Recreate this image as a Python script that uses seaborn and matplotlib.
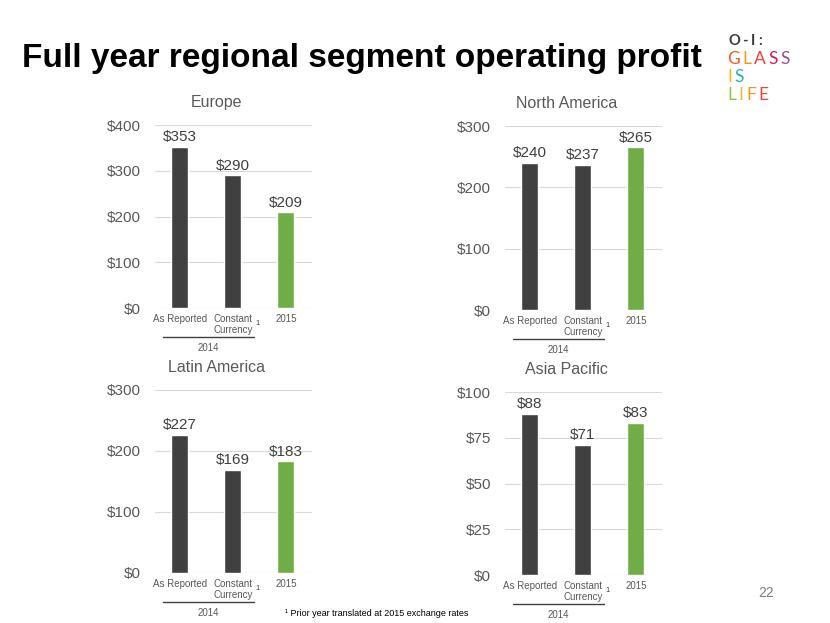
import matplotlib
matplotlib.use("Agg")
import matplotlib.pyplot as plt
from matplotlib.offsetbox import TextArea, HPacker, AnchoredOffsetbox
import pandas as pd
import seaborn as sns

# data (US$ millions)
categories = ["As Reported", "Constant\nCurrency", "2015"]
europe = [353, 290, 209]
north_america = [240, 237, 265]
latin_america = [227, 169, 183]
asia_pacific = [88, 71, 83]
europe_ticks = [0, 100, 200, 300, 400]
na_ticks = [0, 100, 200, 300]
la_ticks = [0, 100, 200, 300]
ap_ticks = [0, 25, 50, 75, 100]

DARK = "#404040"
GREEN = "#70AD47"
GRAY = "#595959"

sns.set_theme(style="white")
plt.rcParams["font.family"] = ["Liberation Sans", "DejaVu Sans"]

fig = plt.figure(figsize=(8.3, 6.23), dpi=100)


def draw_panel(rect, title, values, ticks):
    ax = fig.add_axes(rect)
    df = pd.DataFrame({"cat": categories, "val": values})
    sns.barplot(data=df, x="cat", y="val", hue="cat", palette=[DARK, DARK, GREEN],
                saturation=1, width=0.32, legend=False, ax=ax)
    for cont, v in zip(ax.containers, values):
        ax.bar_label(cont, labels=[f"${v}"], padding=2, fontsize=11, color=DARK)
    ax.set_xlim(-0.47, 2.49)
    ax.set_ylim(0, ticks[-1])
    ax.set_yticks(ticks)
    ax.set_yticklabels([f"${t}" for t in ticks])
    ax.set_xlabel("")
    ax.set_ylabel("")
    ax.yaxis.grid(True, color="#D9D9D9", lw=0.8)
    ax.set_axisbelow(True)
    sns.despine(ax=ax, left=True, bottom=True)
    ax.tick_params(axis="y", labelsize=11, colors=GRAY, length=0, pad=10)
    ax.tick_params(axis="x", labelsize=7, colors=GRAY, length=0, pad=4)
    tr = ax.get_xaxis_transform()
    ax.text(1.42, -0.085, "1", transform=tr, fontsize=5.5, color=DARK, va="center")
    ax.plot([-0.32, 1.40], [-0.158, -0.158], transform=tr, clip_on=False, color=DARK, lw=1)
    ax.text(0.54, -0.22, "2014", transform=tr, fontsize=7, color=GRAY, ha="center", va="center")
    ax.text(0.39, 1.125, title, transform=ax.transAxes, fontsize=11.5, color=GRAY,
            ha="center", va="center")
    return ax


draw_panel([0.1867, 0.5056, 0.189, 0.2937], "Europe", europe, europe_ticks)
draw_panel([0.6084, 0.5024, 0.189, 0.2953], "North America", north_america, na_ticks)
draw_panel([0.1867, 0.0803, 0.189, 0.2937], "Latin America", latin_america, la_ticks)
draw_panel([0.6084, 0.0770, 0.189, 0.2937], "Asia Pacific", asia_pacific, ap_ticks)

fig.text(22 / 830, 1 - 58 / 623, "Full year regional segment operating profit",
         fontsize=24, fontweight="bold", color="black", va="center", ha="left")

fig.text(285 / 830, 1 - 613 / 623, "\u00b9 Prior year translated at 2015 exchange rates",
         fontsize=6.5, color="black", va="center", ha="left")
fig.text(766 / 830, 1 - 593 / 623, "22", fontsize=10, color="#7F7F7F", va="center", ha="center")


# logo
def logo_row(letters, colors, x, y, size=12.5, weight="normal"):
    boxes = [TextArea(ch, textprops=dict(color=c, fontsize=size, fontweight=weight,
                                         family=["Lato", "DejaVu Sans"]))
             for ch, c in zip(letters, colors)]
    pack = HPacker(children=boxes, pad=0, sep=2)
    ab = AnchoredOffsetbox(loc="center left", child=pack, frameon=False,
                           bbox_to_anchor=(x / 830, 1 - y / 623),
                           bbox_transform=fig.transFigure, borderpad=0, pad=0)
    fig.add_artist(ab)


logo_row("O-I:", ["#3C3C3C"] * 4, 728, 41, size=10.5, weight="bold")
logo_row("GLASS", ["#F15A29", "#F7941D", "#EF4136", "#D91C5C", "#A3489C"], 727, 59)
logo_row("IS", ["#F5B800", "#2BB3A6"], 727, 77)
logo_row("LIFE", ["#8DC63F", "#F9B233", "#F7941D", "#EF4136"], 727, 95)

fig.savefig("out.png", dpi=100)
